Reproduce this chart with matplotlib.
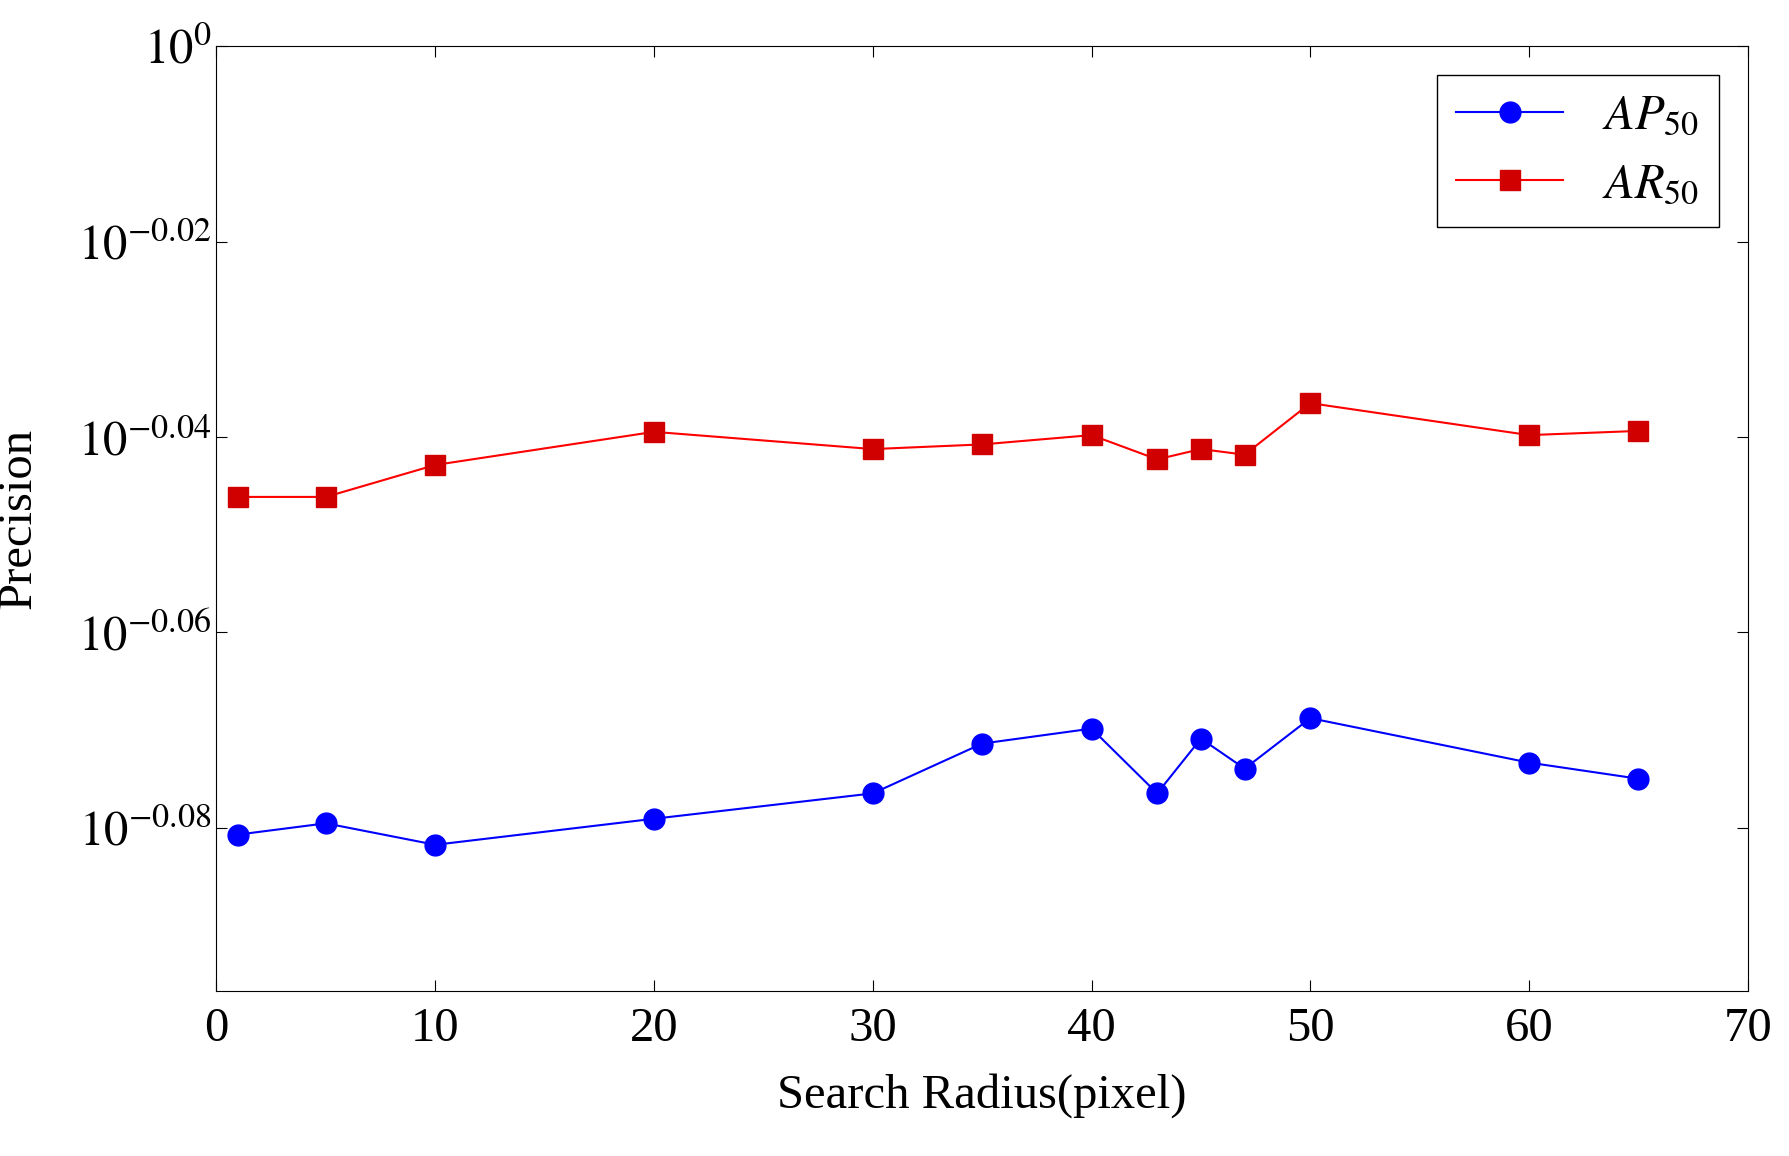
import matplotlib
matplotlib.use("Agg")
import matplotlib.pyplot as plt

radius = [1, 5, 10, 20, 30, 35, 40, 43, 45, 47, 50, 60, 65]
ap50 = [0.8304, 0.8326, 0.8284, 0.8335, 0.8385, 0.8484, 0.8514, 0.8385, 0.8494, 0.8434, 0.8535, 0.8446, 0.8414]
ar50 = [0.8992, 0.8992, 0.9060, 0.9131, 0.9094, 0.9104, 0.9124, 0.9072, 0.9094, 0.9082, 0.9193, 0.9124, 0.9133]
ytick_exp = [0, -0.02, -0.04, -0.06, -0.08]
ytick_labels = ["$10^{0}$", "$10^{-0.02}$", "$10^{-0.04}$", "$10^{-0.06}$", "$10^{-0.08}$"]

plt.rcParams['font.family'] = ['Liberation Serif', 'DejaVu Serif']
plt.rcParams['mathtext.fontset'] = 'stix'

fig = plt.figure(figsize=(17.89, 11.56), dpi=100)
ax = fig.add_axes([0.121, 0.143, 0.856, 0.817])
ax.plot(radius, ap50, color='blue', marker='o', markersize=15, lw=1.5, label='$AP_{50}$')
ax.plot(radius, ar50, color='red', marker='s', markersize=15, lw=1.5, markerfacecolor='#d00000', markeredgecolor='#d00000', label='$AR_{50}$')
ax.set_yscale('log')
ax.set_ylim(10**-0.0967, 1.0)
ax.set_xlim(0, 70)
ax.set_yticks([10**e for e in ytick_exp])
ax.set_yticklabels(ytick_labels)
ax.minorticks_off()
ax.set_xticks(range(0, 71, 10))
ax.tick_params(direction='in', top=True, right=True, labelsize=35, length=8)
ax.tick_params(axis='x', pad=12)
ax.set_xlabel('Search Radius(pixel)', fontsize=35, labelpad=16)
ax.set_ylabel('Precision', fontsize=35)
ax.yaxis.set_label_coords(-0.115, 0.5)
leg = ax.legend(loc='upper right', fontsize=35, fancybox=False, edgecolor='black', framealpha=1, handlelength=2.2, borderaxespad=0.6)
fig.savefig('out.png', dpi=100)
